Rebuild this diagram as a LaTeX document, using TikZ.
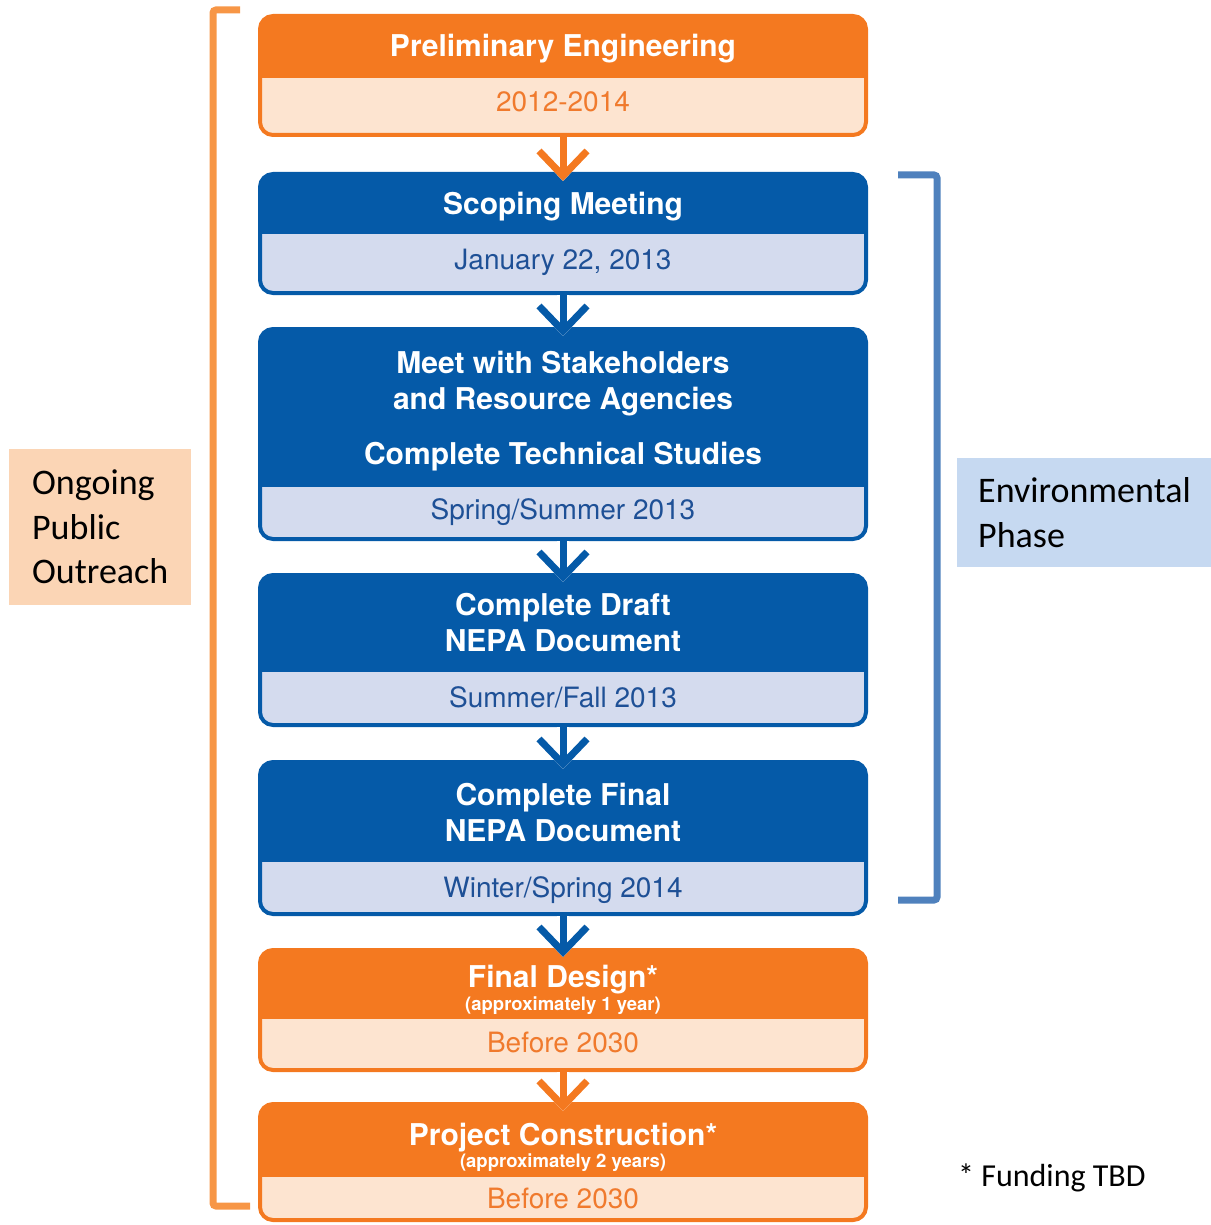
\documentclass[tikz,border=0pt]{standalone}
\usepackage{fontspec}
\newfontfamily\boxfont{TeX Gyre Heros}
\newfontfamily\labelfont{Carlito}
\usetikzlibrary{arrows.meta}

\definecolor{peOrange}{RGB}{244,121,32}
\definecolor{peOrangeLight}{RGB}{253,228,208}
\definecolor{peOrangeText}{RGB}{240,122,45}
\definecolor{peBlue}{RGB}{5,90,168}
\definecolor{peBlueLight}{RGB}{212,219,238}
\definecolor{peBlueText}{RGB}{30,80,150}
\definecolor{outreachLine}{RGB}{247,150,70}
\definecolor{outreachFill}{RGB}{251,213,181}
\definecolor{envLine}{RGB}{79,129,189}
\definecolor{envFill}{RGB}{198,217,241}

\begin{document}
\begin{tikzpicture}[x=1pt, y=-1pt,
        stage/.style={rectangle, rounded corners=13, line width=4, minimum width=606, inner sep=0},
        orangestage/.style={stage, draw=peOrange, fill=peOrangeLight,
            path picture={\fill[peOrange, sharp corners] (path picture bounding box.north west) rectangle ([yshift=-#1]path picture bounding box.north east);}},
        bluestage/.style={stage, draw=peBlue, fill=peBlueLight,
            path picture={\fill[peBlue, sharp corners] (path picture bounding box.north west) rectangle ([yshift=-#1]path picture bounding box.north east);}},
        headtext/.style={font=\boxfont\bfseries\fontsize{30}{36}\selectfont, text=white, align=center, inner sep=0},
        notetext/.style={font=\boxfont\bfseries\fontsize{18.5}{22}\selectfont, text=white, inner sep=0, anchor=base},
        orangedate/.style={font=\boxfont\fontsize{28}{34}\selectfont, text=peOrangeText, inner sep=0, anchor=base},
        bluedate/.style={font=\boxfont\fontsize{28}{34}\selectfont, text=peBlueText, inner sep=0, anchor=base},
        flow/.style={line width=7, -{Straight Barb[length=25pt, width=48pt]}, shorten >=-9pt,
            preaction={draw=white, line width=12}},
        orangeflow/.style={flow, draw=peOrange},
        blueflow/.style={flow, draw=peBlue},
        sidelabel/.style={font=\labelfont\fontsize{36}{44.5}\selectfont, align=left, inner xsep=21, anchor=north west},
        bracket/.style={line width=7, rounded corners=3}]

    \useasboundingbox (0,0) rectangle (1210,1225);

    % stages
    \node[orangestage=62, minimum height=119] (prelim) at (563,75.5) {};
    \node[bluestage=60, minimum height=119] (scope) at (563,233.5) {};
    \node[bluestage=158, minimum height=210] (meet) at (563,434) {};
    \node[bluestage=97, minimum height=150] (draft) at (563,650) {};
    \node[bluestage=100, minimum height=152] (final) at (563,838) {};
    \node[orangestage=69, minimum height=120] (design) at (563,1010) {};
    \node[orangestage=73, minimum height=116] (build) at (563,1162) {};

    % texts
    \node[headtext, anchor=base] (prelimhead) at (563,57) {Preliminary Engineering};
    \node[orangedate] (prelimdate) at (563,112) {2012-2014};
    \node[headtext, anchor=base] (scopehead) at (563,214) {Scoping Meeting};
    \node[bluedate] (scopedate) at (563,269) {January 22, 2013};
    \node[headtext, anchor=north] (meethead) at (563,350.5) {Meet with Stakeholders\\and Resource Agencies\\[19pt]Complete Technical Studies};
    \node[bluedate] (meetdate) at (563,519) {Spring/Summer 2013};
    \node[headtext, anchor=north] (drafthead) at (563,593.5) {Complete Draft\\NEPA Document};
    \node[bluedate] (draftdate) at (563,707) {Summer/Fall 2013};
    \node[headtext, anchor=north] (finalhead) at (563,782.5) {Complete Final\\NEPA Document};
    \node[bluedate] (finaldate) at (563,897) {Winter/Spring 2014};
    \node[headtext, anchor=base] (designhead) at (563,987) {Final Design*};
    \node[notetext] (designnote) at (563,1010) {(approximately 1 year)};
    \node[orangedate] (designdate) at (563,1052) {Before 2030};
    \node[headtext, anchor=base] (buildhead) at (563,1145) {Project Construction*};
    \node[notetext] (buildnote) at (563,1167) {(approximately 2 years)};
    \node[orangedate] (builddate) at (563,1208) {Before 2030};

    % arrows
    \draw[orangeflow] (prelim) -- (scope);
    \draw[blueflow] (scope) -- (meet);
    \draw[blueflow] (meet) -- (draft);
    \draw[blueflow] (draft) -- (final);
    \draw[blueflow] (final) -- (design);
    \draw[orangeflow] (design) -- (build);

    % brackets and side labels
    \draw[bracket, outreachLine] (240,10) -- (213,10) -- (213,1206) -- (250,1206);
    \draw[bracket, envLine] (898,175) -- (937,175) -- (937,900) -- (898,900);
    \node[sidelabel, fill=outreachFill, minimum height=156, minimum width=182] (outreach) at (9,449) {Ongoing\\Public\\Outreach};
    \node[sidelabel, fill=envFill, minimum height=109] (envphase) at (957,458) {Environmental\\Phase};
    \node[font=\labelfont\fontsize{32}{38}\selectfont, anchor=base west, inner sep=0] (funding) at (958,1186) {* Funding TBD};
\end{tikzpicture}
\end{document}
